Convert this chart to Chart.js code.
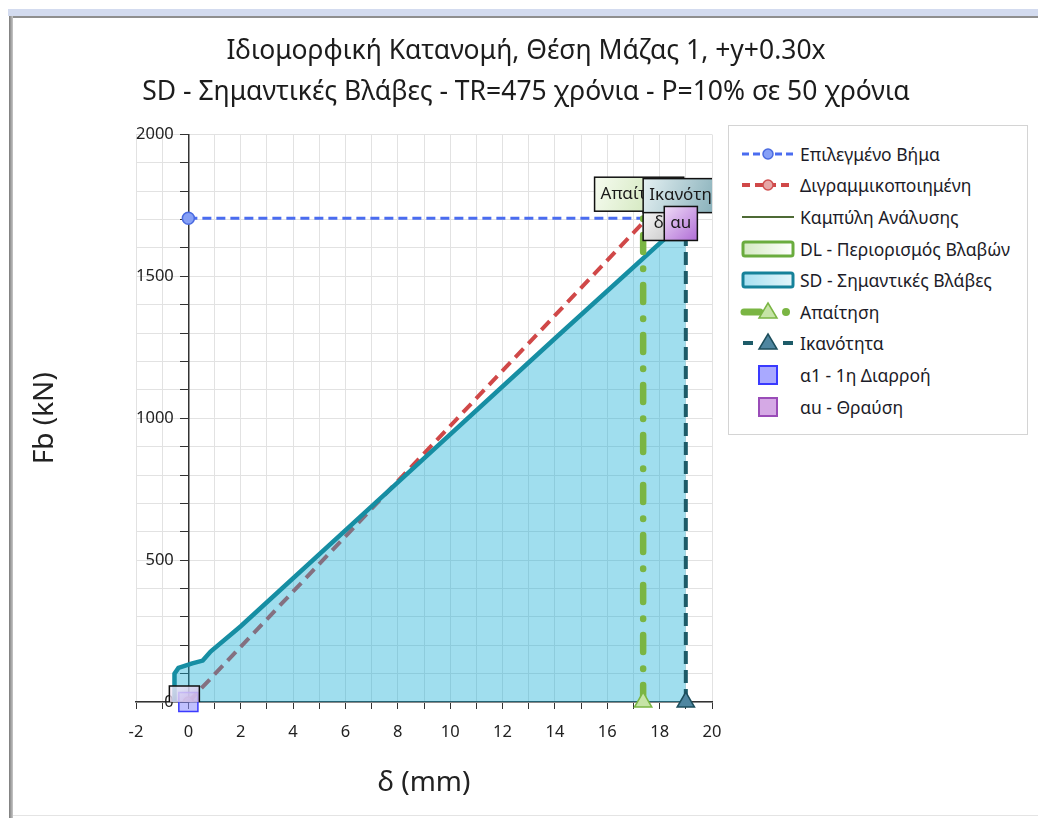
<!DOCTYPE html>
<html>
<head>
<meta charset="utf-8">
<script src="https://cdn.jsdelivr.net/npm/chart.js@4.4.1/dist/chart.umd.min.js"></script>
<style>
  html, body { margin: 0; padding: 0; background: #fff; }
  body { width: 1038px; height: 818px; position: relative; overflow: hidden; font-family: "Noto Sans", sans-serif; }
  #band { position: absolute; left: 8px; top: 9px; right: 0; height: 7px; background: #d3dbef; }
  #edgeTop { position: absolute; left: 9px; top: 16px; right: 0; height: 2px; background: #8f8f8f; }
  #edgeLeft { position: absolute; left: 9px; top: 16px; bottom: 0; width: 4px; background: linear-gradient(to right, #7a7a7a, #c8c8c8); }
  #edgeBottom { position: absolute; left: 13px; right: 0; top: 815px; height: 1px; background: #e4e4e4; }
  #chart { position: absolute; left: 0; top: 0; }
  #legend { position: absolute; left: 728px; top: 125px; width: 300px; height: 310px; border: 1px solid #d4d4d4;
            background: #fff; padding-top: 12px; box-sizing: border-box; }
  .row { height: 31.6px; display: flex; align-items: center; }
  .row svg { margin-left: 11px; width: 56px; height: 22px; flex: none; }
  .row span { margin-left: 4px; font-size: 17.5px; color: #1c1c28; white-space: nowrap; }
</style>
</head>
<body>
<div id="band"></div>
<div id="edgeTop"></div>
<div id="edgeLeft"></div>
<div id="edgeBottom"></div>
<canvas id="chart" width="1038" height="818"></canvas>
<div id="legend"></div>
<script>
// titles
const title1 = 'Ιδιομορφική Κατανομή, Θέση Μάζας 1, +y+0.30x';
const title2 = 'SD - Σημαντικές Βλάβες - TR=475 χρόνια - P=10% σε 50 χρόνια';

// series names (legend order)
const seriesNames = [
    'Επιλεγμένο Βήμα',
    'Διγραμμικοποιημένη',
    'Καμπύλη Ανάλυσης',
    'DL - Περιορισμός Βλαβών',
    'SD - Σημαντικές Βλάβες',
    'Απαίτηση',
    'Ικανότητα',
    'α1 - 1η Διαρροή',
    'αu - Θραύση'
];

// tick labels
const xTickLabels = [-2, 0, 2, 4, 6, 8, 10, 12, 14, 16, 18, 20];
const yTickLabels = [0, 500, 1000, 1500, 2000];

// pushover curve δ (mm) / Fb (kN)
const curveDelta = [-0.53, -0.53, -0.38, 0.15, 0.55, 0.85, 2.0, 8.0, 14.0, 19.0];
const curveFb    = [0, 100, 120, 136, 146, 178, 267, 774, 1281, 1700];

// bilinear idealisation
const bilinearDelta = [0, 17.37, 19.0];
const bilinearFb    = [0, 1690, 1690];

// selected step
const stepDelta = [0, 17.37];
const stepFb    = [1705, 1705];

// demand / capacity
const demandDelta   = [17.37, 17.37];
const demandFb      = [0, 1705];
const capacityDelta = [19.0, 19.0];
const capacityFb    = [0, 1700];

// DL region (empty here)
const dlDelta = [];
const dlFb    = [];

// characteristic points
const yieldDelta    = [0];
const yieldFb       = [0];
const ultimateDelta = [19.0];
const ultimateFb    = [1690];

const FONT = '"Noto Sans", sans-serif';
const toXY = (xs, ys) => xs.map((x, i) => ({ x: x, y: ys[i] }));

// boxed labels next to points
const labelBoxes = [
    { text: 'δy', x: bilinearDelta[1], y: bilinearFb[1], align: 'left', dx: 0, dy: 1, w: 40, colors: ['#fbfbfb', '#bdbdbd'] },
    { text: 'Απαίτηση', x: demandDelta[1], y: demandFb[1], dx: -4, dy: -24, colors: ['#f6fbf0', '#c2dfa6'] },
    { text: 'Ικανότητα', x: capacityDelta[1], y: capacityFb[1], dx: 4, dy: -24, colors: ['#e4f0f2', '#6f9fab'] },
    { text: 'αu', x: ultimateDelta[0], y: ultimateFb[0], dx: -5, dy: 1, colors: ['#efdcf7', '#b06dd6'] },
    { text: '', x: yieldDelta[0], y: yieldFb[0], dx: -4, dy: 1, w: 30, colors: ['rgba(246,238,250,0.8)', 'rgba(196,160,220,0.8)'] }
];

const labelPlugin = {
    id: 'pointLabels',
    afterDatasetsDraw(chart) {
        const { ctx, chartArea: a } = chart;
        const xs = chart.scales.x, ys = chart.scales.y;
        ctx.save();
        ctx.beginPath();
        ctx.rect(a.left, a.top, a.right - a.left, a.bottom - a.top);
        ctx.clip();
        ctx.font = '17px ' + FONT;
        ctx.textBaseline = 'middle';
        ctx.textAlign = 'center';
        labelBoxes.forEach(b => {
            const w = b.w || (ctx.measureText(b.text).width + 12);
            const h = 34;
            const px = xs.getPixelForValue(b.x) + b.dx;
            const py = ys.getPixelForValue(b.y) + b.dy;
            const left = b.align === 'left' ? px : px - w / 2;
            const top = py - h / 2;
            const g = ctx.createLinearGradient(left, top, left + w, top + h);
            g.addColorStop(0, b.colors[0]);
            g.addColorStop(1, b.colors[1]);
            ctx.fillStyle = g;
            ctx.fillRect(left, top, w, h);
            ctx.lineWidth = 1.5;
            ctx.strokeStyle = '#111';
            ctx.strokeRect(left, top, w, h);
            ctx.fillStyle = '#1a1a1a';
            ctx.fillText(b.text, left + w / 2, py);
        });
        ctx.restore();
    }
};

const chart = new Chart(document.getElementById('chart'), {
    type: 'line',
    data: {
        datasets: [
            {
                label: seriesNames[0],
                data: toXY(stepDelta, stepFb),
                borderColor: '#4a6cf0',
                borderWidth: 3,
                borderDash: [9, 5],
                pointRadius: [6, 0],
                pointBackgroundColor: '#86a0f6',
                pointBorderColor: '#4a6ae0',
                pointBorderWidth: 1.5,
                order: 3
            },
            {
                label: seriesNames[1],
                data: toXY(bilinearDelta, bilinearFb),
                borderColor: '#d04848',
                borderWidth: 4,
                borderDash: [12, 7],
                pointRadius: [5, 0, 0],
                pointBackgroundColor: '#e6a0a0',
                pointBorderColor: '#c84848',
                pointBorderWidth: 1.5,
                order: 7
            },
            {
                label: seriesNames[2],
                data: toXY(curveDelta, curveFb),
                borderColor: '#4b6a2e',
                borderWidth: 2,
                pointRadius: 0,
                order: 6
            },
            {
                label: seriesNames[3],
                data: toXY(dlDelta, dlFb),
                borderColor: '#6aac3e',
                backgroundColor: 'rgba(140, 200, 100, 0.3)',
                borderWidth: 3,
                pointRadius: 0,
                fill: 'origin',
                order: 5
            },
            {
                label: seriesNames[4],
                data: toXY(curveDelta, curveFb),
                borderColor: '#168ea3',
                borderWidth: 4.5,
                backgroundColor: 'rgba(17, 172, 212, 0.4)',
                fill: 'origin',
                pointRadius: 0,
                order: 4
            },
            {
                label: seriesNames[5],
                data: toXY(demandDelta, demandFb),
                borderColor: '#7ab543',
                borderWidth: 6.5,
                borderDash: [17, 16, 0.5, 16.5],
                borderCapStyle: 'round',
                pointStyle: 'triangle',
                pointRadius: [10, 0],
                pointBackgroundColor: '#c6e4a6',
                pointBorderColor: '#7ab543',
                pointBorderWidth: 1.5,
                clip: false,
                order: 2
            },
            {
                label: seriesNames[6],
                data: toXY(capacityDelta, capacityFb),
                borderColor: '#1d5b68',
                borderWidth: 4,
                borderDash: [13, 6],
                pointStyle: 'triangle',
                pointRadius: [10, 0],
                pointBackgroundColor: '#4f86a0',
                pointBorderColor: '#1d4e5c',
                pointBorderWidth: 1.5,
                clip: false,
                order: 2
            },
            {
                label: seriesNames[7],
                data: toXY(yieldDelta, yieldFb),
                showLine: false,
                pointStyle: 'rect',
                pointRadius: 13.5,
                pointBackgroundColor: 'rgba(140, 140, 255, 0.55)',
                pointBorderColor: '#3a3aff',
                pointBorderWidth: 1.5,
                clip: false,
                order: 1
            },
            {
                label: seriesNames[8],
                data: toXY(ultimateDelta, ultimateFb),
                showLine: false,
                pointStyle: 'rect',
                pointRadius: 13.5,
                pointBackgroundColor: 'rgba(200, 150, 225, 0.7)',
                pointBorderColor: '#9a4cb8',
                pointBorderWidth: 1.5,
                clip: false,
                order: 1
            }
        ]
    },
    options: {
        responsive: false,
        animation: false,
        events: [],
        devicePixelRatio: 1,
        layout: { padding: { left: 14, right: 0, top: 0, bottom: 0 } },
        plugins: {
            legend: { display: false },
            tooltip: { enabled: false },
            title: {
                display: true,
                text: title1,
                color: '#1c1c1c',
                font: { family: FONT, size: 26.5, weight: 'normal' },
                padding: { top: 36, bottom: 9.2 }
            },
            subtitle: {
                display: true,
                text: title2,
                color: '#1c1c1c',
                font: { family: FONT, size: 26.5, weight: 'normal' },
                padding: { top: 0, bottom: 25.7 }
            }
        },
        scales: {
            x: {
                type: 'linear',
                position: 'bottom',
                min: -2,
                max: 20,
                afterFit: s => { s.height = 116; },
                ticks: {
                    stepSize: 1,
                    maxTicksLimit: 100,
                    autoSkip: false,
                    maxRotation: 0,
                    padding: 13,
                    color: '#222',
                    font: { family: FONT, size: 16.5 },
                    callback: v => xTickLabels.includes(v) ? String(v) : ''
                },
                grid: { color: '#e2e2e2', tickColor: '#333', tickLength: 7 },
                border: { color: '#333', width: 1.5 },
                title: {
                    display: true,
                    text: 'δ (mm)',
                    color: '#222',
                    font: { family: FONT, size: 28 },
                    padding: { top: 0, bottom: 18 }
                }
            },
            y: {
                type: 'linear',
                position: 'left',
                min: 0,
                max: 2000,
                afterFit: s => { s.width = 122; },
                ticks: {
                    stepSize: 100,
                    maxTicksLimit: 100,
                    autoSkip: false,
                    mirror: true,
                    crossAlign: 'far',
                    padding: 0,
                    color: '#222',
                    font: { family: FONT, size: 16.5 },
                    callback: v => yTickLabels.includes(v) ? String(v) : ''
                },
                grid: { display: false, drawTicks: false },
                border: { display: false },
                title: {
                    display: true,
                    text: 'Fb (kN)',
                    color: '#222',
                    font: { family: FONT, size: 28 },
                    padding: { top: 14, bottom: 0 }
                }
            },
            y2: {
                type: 'linear',
                position: { x: 0 },
                min: 0,
                max: 2000,
                ticks: { display: false, stepSize: 100, maxTicksLimit: 100, autoSkip: false },
                grid: { color: '#e2e2e2', tickColor: '#333', tickLength: 8 },
                border: { color: '#333', width: 1.5 }
            },
            padR: {
                type: 'linear',
                position: 'right',
                display: true,
                ticks: { display: false },
                grid: { display: false, drawTicks: false },
                border: { display: false },
                afterFit: s => { s.width = 326; }
            }
        }
    },
    plugins: [labelPlugin]
});

// legend symbols
function legendSymbol(i) {
    switch (i) {
        case 0: return '<line x1="2" y1="11" x2="54" y2="11" stroke="#4a6cf0" stroke-width="3" stroke-dasharray="7 4"/>' +
                       '<circle cx="28" cy="11" r="5" fill="#86a0f6" stroke="#4a6ae0" stroke-width="1.5"/>';
        case 1: return '<line x1="2" y1="11" x2="54" y2="11" stroke="#d04848" stroke-width="4" stroke-dasharray="8 5"/>' +
                       '<circle cx="28" cy="11" r="5" fill="#e6a6a6" stroke="#d05050" stroke-width="1.5"/>';
        case 2: return '<line x1="2" y1="11" x2="54" y2="11" stroke="#4e6a35" stroke-width="2"/>';
        case 3: return '<defs><linearGradient id="gDL"><stop offset="0" stop-color="#d4eac2"/><stop offset="1" stop-color="#ffffff"/></linearGradient></defs>' +
                       '<rect x="3" y="4" width="50" height="14" rx="2" fill="url(#gDL)" stroke="#6aac3e" stroke-width="3"/>';
        case 4: return '<defs><linearGradient id="gSD"><stop offset="0" stop-color="#a6e0f1"/><stop offset="1" stop-color="#e4f6fb"/></linearGradient></defs>' +
                       '<rect x="3" y="4" width="50" height="14" rx="2" fill="url(#gSD)" stroke="#16829a" stroke-width="3"/>';
        case 5: return '<line x1="4" y1="11" x2="20" y2="11" stroke="#7ab543" stroke-width="7" stroke-linecap="round"/>' +
                       '<circle cx="46" cy="11" r="4" fill="#7ab543"/>' +
                       '<polygon points="28,2 37,17 19,17" fill="#c6e4a6" stroke="#7ab543" stroke-width="1.5"/>';
        case 6: return '<line x1="3" y1="11" x2="13" y2="11" stroke="#1d5b68" stroke-width="4"/>' +
                       '<line x1="43" y1="11" x2="53" y2="11" stroke="#1d5b68" stroke-width="4"/>' +
                       '<polygon points="28,2 37,17 19,17" fill="#4f86a0" stroke="#1d4e5c" stroke-width="1.5"/>';
        case 7: return '<rect x="19" y="2" width="18" height="18" fill="#a9a9ff" stroke="#3a3aff" stroke-width="2"/>';
        default: return '<rect x="19" y="2" width="18" height="18" fill="#d5a9e5" stroke="#9a4cb8" stroke-width="2"/>';
    }
}

const legendEl = document.getElementById('legend');
chart.data.datasets.forEach((ds, i) => {
    const row = document.createElement('div');
    row.className = 'row';
    row.innerHTML = '<svg viewBox="0 0 56 22">' + legendSymbol(i) + '</svg>';
    const span = document.createElement('span');
    span.textContent = ds.label;
    row.appendChild(span);
    legendEl.appendChild(row);
});
</script>
</body>
</html>
